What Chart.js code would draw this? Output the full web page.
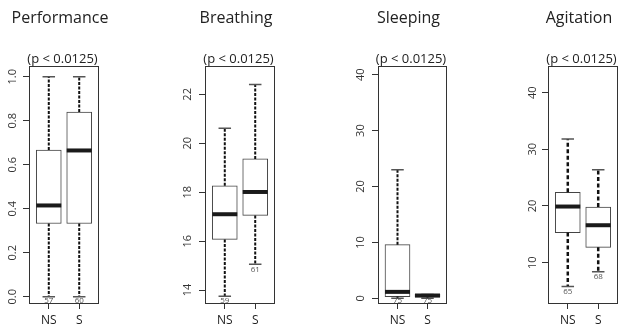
<!DOCTYPE html>
<html>
<head>
<meta charset="utf-8">
<script src="https://cdn.jsdelivr.net/npm/chart.js@4.4.1/dist/chart.umd.min.js"></script>
<style>
  html, body { margin: 0; padding: 0; background: #fff; width: 619px; height: 328px; overflow: hidden; }
  canvas { position: absolute; top: 0; }
</style>
</head>
<body>
<canvas id="c1"></canvas>
<canvas id="c2"></canvas>
<canvas id="c3"></canvas>
<canvas id="c4"></canvas>
<script>
// data
const groups = ["NS", "S"];
const titles = ["Performance", "Breathing", "Sleeping", "Agitation"];
const pNote = "(p < 0.0125)";

// [min, q1, median, q3, max] per group
const perfNS = [0, 0.333, 0.415, 0.667, 1.0];
const perfS = [0, 0.333, 0.665, 0.84, 1.0];
const breathNS = [13.75, 16.07, 17.1, 18.26, 20.62];
const breathS = [15.06, 17.05, 18.01, 19.36, 22.4];
const sleepNS = [0, 0.3, 1.15, 9.6, 23.0];
const sleepS = [0, 0.2, 0.5, 0.7, 0.7];
const agitNS = [5.8, 15.3, 19.9, 22.4, 31.8];
const agitS = [8.4, 12.7, 16.6, 19.8, 26.4];

const perfN = [57, 60];
const breathN = [59, 61];
const sleepN = [75, 75];
const agitN = [65, 68];

const perfTicks = [0, 0.2, 0.4, 0.6, 0.8, 1.0];
const breathTicks = [14, 16, 18, 20, 22];
const sleepTicks = [0, 10, 20, 30, 40];
const agitTicks = [10, 20, 30, 40];

// layout of the four panels
const panels = [
  { id: "c1", left: 0,   width: 117, padR: 18, min: -0.033, max: 1.049, ticks: perfTicks,   dec: 1, stats: [perfNS, perfS],     n: perfN,   labPad: 2,   dash: [3, 1.5], lw: 2 },
  { id: "c2", left: 176, width: 117, padR: 18, min: 13.43,  max: 23.16, ticks: breathTicks, dec: 0, stats: [breathNS, breathS], n: breathN, labPad: 5,   dash: [3, 1.5], lw: 2 },
  { id: "c3", left: 349, width: 116, padR: 18, min: -1.02,  max: 41.56, ticks: sleepTicks,  dec: 0, stats: [sleepNS, sleepS],   n: sleepN,  labPad: 4.5, dash: [3, 1.5], lw: 2 },
  { id: "c4", left: 519, width: 100, padR: 1,  min: 2.7,    max: 44.7,  ticks: agitTicks,   dec: 0, stats: [agitNS, agitS],     n: agitN,   labPad: 2.5, dash: [4, 2.5], lw: 2.5 }
];

Chart.defaults.font.family = '"Open Sans", "DejaVu Sans", sans-serif';
Chart.defaults.color = "#222";

const boxParts = {
  id: "boxParts",
  afterDatasetsDraw(chart, args, opts) {
    const { ctx, chartArea: a, scales: { x, y } } = chart;
    const bars = chart.getDatasetMeta(0).data;
    opts.stats.forEach((s, i) => {
      const cx = x.getPixelForValue(i + 1);
      const half = bars[i].width / 2;
      const cap = half / 2;
      const [lo, q1, med, q3, hi] = s.map(v => y.getPixelForValue(v));
      ctx.save();
      // whiskers
      ctx.strokeStyle = "#111";
      ctx.lineWidth = opts.lw;
      ctx.setLineDash(opts.dash);
      ctx.beginPath();
      ctx.moveTo(cx, q3); ctx.lineTo(cx, hi);
      ctx.moveTo(cx, q1); ctx.lineTo(cx, lo);
      ctx.stroke();
      ctx.setLineDash([]);
      // staples
      ctx.strokeStyle = "#555";
      ctx.lineWidth = 1.5;
      ctx.beginPath();
      ctx.moveTo(cx - cap, hi); ctx.lineTo(cx + cap, hi);
      ctx.moveTo(cx - cap, lo); ctx.lineTo(cx + cap, lo);
      ctx.stroke();
      // median
      ctx.strokeStyle = "#1a1a1a";
      ctx.lineWidth = 4;
      ctx.beginPath();
      ctx.moveTo(cx - half, med); ctx.lineTo(cx + half, med);
      ctx.stroke();
      // group size, kept inside the frame
      ctx.fillStyle = "#555";
      ctx.font = '8px "Open Sans"';
      ctx.textAlign = "center";
      ctx.textBaseline = "alphabetic";
      ctx.fillText(String(opts.n[i]), cx, Math.min(lo + 7.5, a.bottom - 1.5));
      ctx.restore();
    });
    // frame, title and note
    const mid = (a.left + a.right) / 2;
    ctx.save();
    ctx.strokeStyle = "#333";
    ctx.lineWidth = 1;
    ctx.strokeRect(a.left + 0.5, a.top + 0.5, a.width - 1, a.height - 1);
    ctx.fillStyle = "#222";
    ctx.textAlign = "center";
    ctx.textBaseline = "alphabetic";
    ctx.font = '16px "Open Sans"';
    ctx.fillText(opts.title, mid - 4, 22.5);
    ctx.font = '13px "Open Sans"';
    ctx.fillText(opts.note, mid - 1.5, a.top - 3);
    ctx.restore();
  }
};

panels.forEach((p, k) => {
  const cv = document.getElementById(p.id);
  cv.width = p.width;
  cv.height = 328;
  cv.style.left = p.left + "px";
  cv.style.width = p.width + "px";
  cv.style.height = "328px";

  new Chart(cv, {
    type: "bar",
    data: {
      datasets: [{
        data: p.stats.map((s, i) => ({ x: i + 1, y: [s[1], s[3]] })),
        backgroundColor: "#fff",
        borderColor: "#444",
        borderWidth: 1,
        borderSkipped: false,
        barThickness: 25
      }]
    },
    options: {
      responsive: false,
      animation: false,
      devicePixelRatio: 1,
      layout: { padding: { left: 0, right: p.padR, top: 66, bottom: 0 } },
      scales: {
        x: {
          type: "linear",
          offset: false,
          min: 0.35,
          max: 2.65,
          afterBuildTicks: axis => { axis.ticks = groups.map((g, i) => ({ value: i + 1 })); },
          afterFit: axis => { axis.height = 24; axis.paddingLeft = 0; axis.paddingRight = 0; },
          ticks: {
            callback: (v, i) => groups[i],
            font: { size: 12 },
            color: "#222",
            padding: 4,
            autoSkip: false,
            maxRotation: 0
          },
          grid: { offset: false, drawOnChartArea: false, tickLength: 5, tickColor: "#333" },
          border: { display: false }
        },
        y: {
          min: p.min,
          max: p.max,
          afterBuildTicks: axis => { axis.ticks = p.ticks.map(v => ({ value: v })); },
          afterFit: axis => { axis.width = 29; axis.paddingTop = 0; axis.paddingBottom = 0; },
          ticks: {
            callback: v => v.toFixed(p.dec),
            font: { size: 11 },
            color: "#333",
            minRotation: 90,
            maxRotation: 90,
            crossAlign: "center",
            padding: p.labPad,
            autoSkip: false
          },
          grid: { drawOnChartArea: false, tickLength: 6, tickColor: "#333" },
          border: { display: false }
        }
      },
      plugins: {
        legend: { display: false },
        tooltip: { enabled: false },
        boxParts: { stats: p.stats, n: p.n, dash: p.dash, lw: p.lw, title: titles[k], note: pNote }
      }
    },
    plugins: [boxParts]
  });
});
</script>
</body>
</html>
